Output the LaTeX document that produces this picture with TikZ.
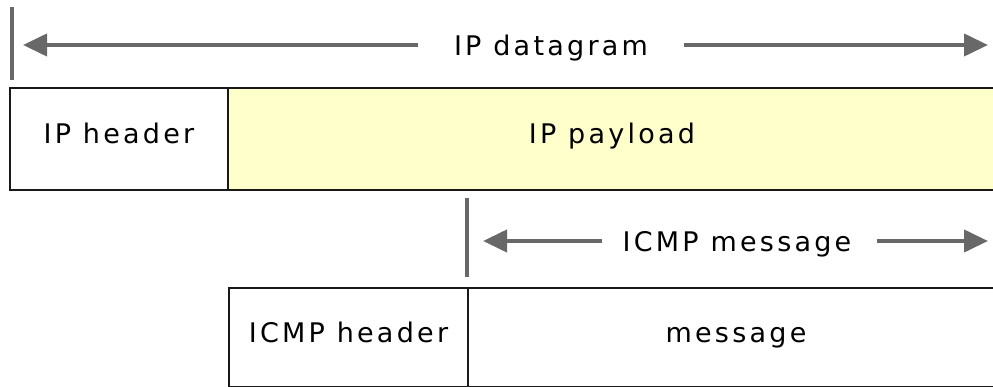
\documentclass[tikz,border=0pt]{standalone}
\usepackage{fontspec}
\setmainfont{DejaVu Sans}[LetterSpace=12]
\usetikzlibrary{arrows.meta}
\definecolor{payload}{HTML}{FFFFCC}
\definecolor{arrowgray}{HTML}{686868}
\begin{document}
\begin{tikzpicture}[x=1pt, y=-1pt,
        cell/.style={draw=black!90, line width=2pt, outer sep=0pt, inner sep=0pt, anchor=north west,
            text height=20pt, text depth=10pt, font=\fontsize{27}{32}\selectfont},
        span/.style={fill=white, inner xsep=36pt, inner ysep=2pt, text height=20.5pt, text depth=0pt,
            font=\fontsize{27}{32}\selectfont},
        bar/.style={arrowgray, line width=4.5pt},
        arr/.style={arrowgray, line width=4pt, -{Triangle[length=24pt, width=22pt]}}]
        \useasboundingbox (0, 0) rectangle (993, 387);
        \clip (0, 0) rectangle (993, 387);
        % IP datagram row
        \node[cell, minimum width=218, minimum height=102] (iphdr) at (10, 88) {IP header};
        \node[cell, fill=payload, minimum width=768, minimum height=102] (ippay) at (iphdr.north east) {IP payload};
        \draw[bar] (12, 7) coordinate (dgbar) -- (12, 80);
        \coordinate (dgleft) at (23, 45);
        \coordinate (dgright) at (988, 45);
        \node[span] (dglabel) at (551, 45) {IP datagram};
        \draw[arr] (dglabel) -- (dgleft);
        \draw[arr] (dglabel) -- (dgright);
        % ICMP message row
        \node[cell, minimum width=239, minimum height=99] (icmphdr) at (229, 288) {ICMP header};
        \node[cell, minimum width=536, minimum height=99] (icmpmsg) at (icmphdr.north east) {message};
        \draw[bar] (467, 198) coordinate (msgbar) -- (467, 277);
        \coordinate (msgleft) at (483, 241);
        \coordinate (msgright) at (988, 241);
        \node[span, inner xsep=20pt] (msglabel) at (737, 241) {ICMP message};
        \draw[arr] (msglabel) -- (msgleft);
        \draw[arr, shorten <=5pt] (msglabel) -- (msgright);
    \end{tikzpicture}
\end{document}
